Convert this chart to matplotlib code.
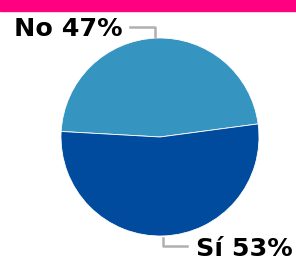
import numpy as np
import matplotlib.pyplot as plt
from matplotlib.patches import Rectangle

labels = ["No", "Sí"]
values = [47, 53]
colours = ["#3594c0", "#004b9e"]

W, H = 296, 256
fig = plt.figure(figsize=(W / 100, H / 100), dpi=100)
ax = fig.add_axes([0, 0, 1, 1])

# top banner
ax.add_patch(Rectangle((0, H - 11), W, 11, color="#ff0080", zorder=1))

# pie, pixel coords with y up
cx, cy, r = 160, H - 137, 99
ax.pie(values, colors=colours, startangle=7.6, counterclock=True,
       center=(cx, cy), radius=r, frame=True,
       wedgeprops=dict(linewidth=0.6, edgecolor="white"))
ax.set_xlim(0, W)
ax.set_ylim(0, H)
ax.axis("off")

grey = "#b0b0b0"
# leader lines
ax.plot([130, 155, 155], [H - 27, H - 27, H - 37], color=grey, lw=1.8)
ax.plot([163, 163, 187], [H - 238, H - 246, H - 246], color=grey, lw=1.8)

ax.text(14, H - 36, f"{labels[0]} {values[0]}%", fontsize=18.3,
        fontweight="bold", ha="left", va="baseline", color="black")
ax.text(196, H - 256.5, f"{labels[1]} {values[1]}%", fontsize=18.3,
        fontweight="bold", ha="left", va="baseline", color="black")

fig.savefig("out.png", dpi=100)
